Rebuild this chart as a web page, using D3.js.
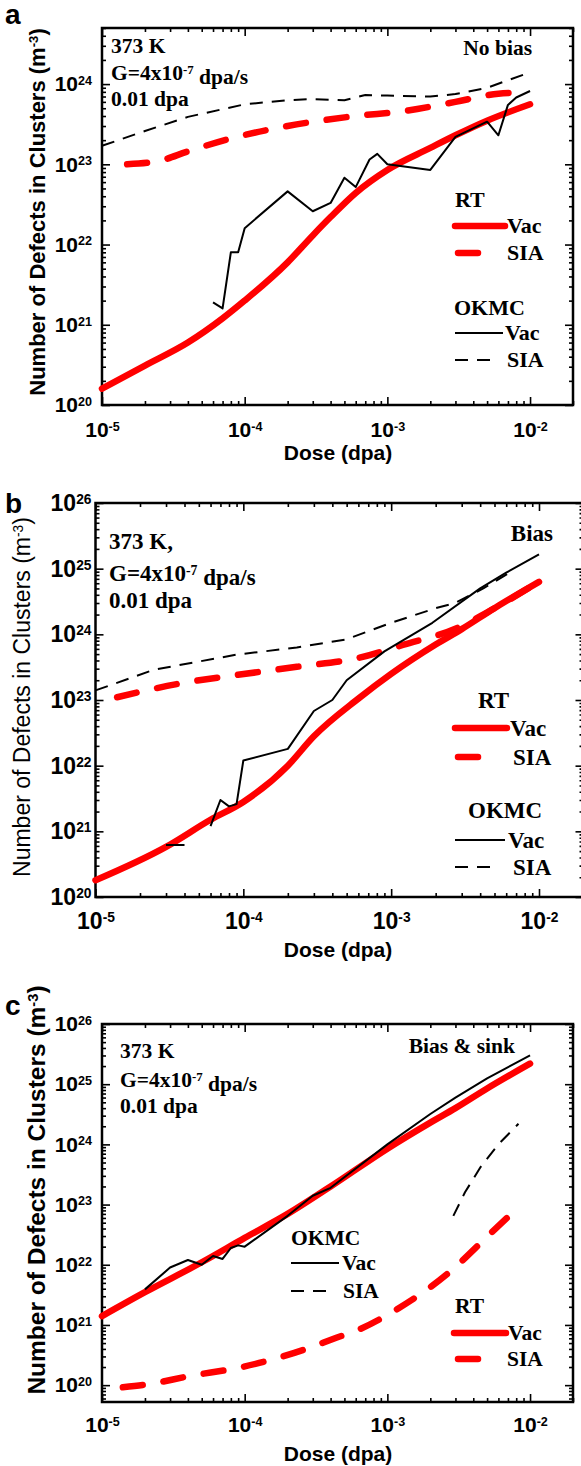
<!DOCTYPE html>
<html>
<head>
<meta charset="utf-8">
<script src="https://cdn.jsdelivr.net/npm/d3@7"></script>
<style>
  body { margin: 0; background: #fff; }
  svg { display: block; }
</style>
</head>
<body>
<svg id="fig" width="581" height="1466"></svg>
<script>
// dose axis is shared by all three panels
var doseDomain = [1e-5, 2e-2];

// panel a : no bias  [dose (dpa), defects in clusters (m^-3)]
var aRtVac = [[1e-5,1.6e20],[2e-5,3.1e20],[4e-5,6e20],[7e-5,1.2e21],[1e-4,2e21],[2e-4,6e21],[3e-4,1.3e22],
  [4e-4,2.2e22],[6e-4,4.4e22],[1e-3,8.5e22],[2e-3,1.6e23],[3e-3,2.3e23],[5e-3,3.5e23],[1e-2,5.6e23]];
var aRtSia = [[1.5e-5,1e23],[2.5e-5,1.1e23],[4e-5,1.45e23],[8e-5,2.1e23],[2e-4,3e23],[6e-4,4e23],
  [1.3e-3,4.6e23],[3e-3,6e23],[6e-3,7.6e23],[8e-3,7.8e23]];
var aOkmcVac = [[6e-5,1.9e21],[7e-5,1.6e21],[8e-5,8e21],[9e-5,8e21],[1e-4,1.6e22],[2e-4,4.6e22],[3e-4,2.6e22],
  [4e-4,3.3e22],[5e-4,6.8e22],[6e-4,5.2e22],[7.5e-4,1.15e23],[8.5e-4,1.35e23],[1e-3,1e23],[2e-3,8.5e22],
  [3e-3,2.2e23],[5e-3,3.4e23],[6e-3,2.3e23],[7e-3,5.5e23],[8e-3,6.8e23],[1e-2,8.2e23]];
var aOkmcSia = [[1e-5,1.7e23],[2e-5,2.6e23],[4e-5,3.9e23],[1e-4,5.6e23],[2e-4,6.3e23],[3e-4,6.5e23],
  [5e-4,6.3e23],[7e-4,7.3e23],[1e-3,7.2e23],[2e-3,7e23],[3e-3,7.5e23],[5e-3,9e23],[1e-2,1.4e24]];

// panel b : bias
var bRtVac = [[1e-5,1.8e20],[3e-5,5.8e20],[6e-5,1.5e21],[1e-4,2.8e21],[2e-4,1e22],[3e-4,2.8e22],[6e-4,1.05e23],
  [1e-3,2.5e23],[2e-3,7e23],[3e-3,1.2e24],[5e-3,2.5e24],[1e-2,6.3e24]];
var bRtSia = [[1.4e-5,1.1e23],[3.8e-5,1.8e23],[9e-5,2.4e23],[2.3e-4,3.2e23],[5.8e-4,4.3e23],[1.2e-3,6.9e23],
  [2.8e-3,1.25e24],[5e-3,2.5e24],[1e-2,6.3e24]];
var bOkmcVac = [[3e-5,6.2e20],[4e-5,6.2e20],[5e-5,null],[6e-5,1.2e21],[7e-5,3e21],[8e-5,2.4e21],[9e-5,2.6e21],
  [1e-4,1.2e22],[2e-4,1.8e22],[3e-4,6.8e22],[4e-4,1e23],[5e-4,2e23],[9e-4,5.5e23],[1.9e-3,1.5e24],
  [4e-3,5e24],[6e-3,8.7e24],[1e-2,1.65e25]];
var bOkmcSia = [[1e-5,1.4e23],[2.5e-5,2.9e23],[9e-5,4.9e23],[2.3e-4,6.3e23],[5e-4,8.4e23],[1e-3,1.5e24],
  [2e-3,2.5e24],[2.7e-3,3e24],[4.2e-3,5e24],[6.5e-3,9e24]];

// panel c : bias & sink
var cRtVac = [[1e-5,1.4e21],[2e-5,3.5e21],[5e-5,1.1e22],[1e-4,2.8e22],[2e-4,7e22],[4e-4,2e23],[1e-3,8.5e23],
  [2e-3,2.3e24],[3e-3,4e24],[5e-3,8.5e24],[1e-2,2.2e25]];
var cRtSia = [[1.4e-5,9.2e19],[2.2e-5,1.05e20],[4e-5,1.4e20],[9.6e-5,2e20],[2.7e-4,4e20],[4.2e-4,5.9e20],
  [6.4e-4,8.5e20],[1.2e-3,1.9e21],[2.7e-3,7.4e21],[5.2e-3,3.2e22],[7.8e-3,7.9e22]];
var cOkmcVac = [[2e-5,3.9e21],[3e-5,9e21],[4e-5,1.2e22],[5e-5,1e22],[6e-5,1.4e22],[7e-5,1.25e22],[8e-5,1.9e22],
  [9e-5,2.1e22],[1e-4,2e22],[2e-4,6.5e22],[3e-4,1.4e23],[4e-4,1.9e23],[1e-3,1e24],[2e-3,3.2e24],[3e-3,6e24],
  [5e-3,1.25e25],[1e-2,3e25]];
var cOkmcSia = [[2.9e-3,6.5e22],[3.5e-3,1.6e23],[4.5e-3,4.2e23],[6e-3,1e24],[8.3e-3,2.2e24]];

var yDomainA = [1e20, 5e24];
var yDomainB = [1e20, 1e26];
var yDomainC = [Math.pow(10, 19.72), 1e26];

var SANS = "'Liberation Sans', Arial, sans-serif";
var SERIF = "'Liberation Serif', 'Times New Roman', serif";
var RED = "#ff0000";

var styles = {
  rtVac:  { stroke: RED, width: 6.5, dash: null, cap: "round", curve: d3.curveMonotoneX },
  rtSia:  { stroke: RED, width: 6.5, dash: "20,21", cap: "round", curve: d3.curveMonotoneX },
  okVac:  { stroke: "#000", width: 2, dash: null, cap: "butt", curve: d3.curveLinear },
  okSia:  { stroke: "#000", width: 2, dash: "13,9", cap: "butt", curve: d3.curveLinear }
};

var panels = [
  { letter: "a", ly: 24, top: 28, bottom: 405, left: 102, right: 573, yDomain: yDomainA,
    tickFont: 21, yPad: 10, xPad: 17,
    yTitle: { x: 45, y: 212, size: 22, weight: "bold" }, xTitleY: 460,
    notes: { x: 111, ys: [53, 80, 106], size: 21.5, comma: "" },
    tag: { text: "No bias", x: 532, y: 55 },
    series: { rtVac: aRtVac, rtSia: aRtSia, okVac: aOkmcVac, okSia: aOkmcSia },
    legendSize: 22,
    legend: [
      { head: "RT", x: 455, y: 207 },
      { key: "rtVac", x1: 455, x2: 505, y: 226, tx: 507 },
      { key: "rtSia", x1: 458, x2: 478, y: 253, tx: 507 },
      { head: "OKMC", x: 454, y: 315 },
      { key: "okVac", x1: 455, x2: 503, y: 333, tx: 505 },
      { key: "okSia", x1: 455, x2: 493, y: 360, tx: 507 }
    ] },
  { letter: "b", ly: 513, top: 503, bottom: 897, left: 95.5, right: 583.5, yDomain: yDomainB,
    tickFont: 23, yPad: 4, xPad: 16,
    yTitle: { x: 30, y: 697, size: 23, weight: "normal" }, xTitleY: 957,
    notes: { x: 109, ys: [549, 581, 608], size: 23, comma: "," },
    tag: { text: "Bias", x: 553, y: 541 },
    series: { rtVac: bRtVac, rtSia: bRtSia, okVac: bOkmcVac, okSia: bOkmcSia },
    legendSize: 23,
    legend: [
      { head: "RT", x: 478, y: 708 },
      { key: "rtVac", x1: 455, x2: 507, y: 728, tx: 510 },
      { key: "rtSia", x1: 458, x2: 478, y: 757, tx: 513 },
      { head: "OKMC", x: 468, y: 818 },
      { key: "okVac", x1: 455, x2: 505, y: 840, tx: 508 },
      { key: "okSia", x1: 455, x2: 493, y: 867, tx: 513 }
    ] },
  { letter: "c", ly: 1015, top: 1024, bottom: 1402, left: 102, right: 573, yDomain: yDomainC,
    tickFont: 21, yPad: 10, xPad: 15,
    yTitle: { x: 45, y: 1190, size: 24.5, weight: "bold" }, xTitleY: 1461,
    notes: { x: 120, ys: [1058, 1087, 1113], size: 21.5, comma: "" },
    tag: { text: "Bias & sink", x: 515, y: 1053 },
    series: { rtVac: cRtVac, rtSia: cRtSia, okVac: cOkmcVac, okSia: cOkmcSia },
    legendSize: 21.5,
    legend: [
      { head: "OKMC", x: 291, y: 1245 },
      { key: "okVac", x1: 291, x2: 339, y: 1263, tx: 342 },
      { key: "okSia", x1: 291, x2: 330, y: 1291, tx: 343 },
      { head: "RT", x: 455, y: 1313 },
      { key: "rtVac", x1: 454, x2: 506, y: 1333, tx: 508 },
      { key: "rtSia", x1: 458, x2: 478, y: 1359, tx: 507 }
    ] }
];

var svg = d3.select("#fig");

// 1..9 x 10^n inside a log domain, split into decades and the rest
function logTicks(domain) {
  var lo = Math.floor(Math.log10(domain[0]) + 1e-9), hi = Math.ceil(Math.log10(domain[1]) - 1e-9);
  var major = [], minor = [];
  for (var e = lo; e <= hi; e++) {
    for (var m = 1; m < 10; m++) {
      var v = m * Math.pow(10, e);
      if (v < domain[0] * 0.999 || v > domain[1] * 1.001) continue;
      if (m === 1) major.push(v); else minor.push(v);
    }
  }
  return { major: major, minor: minor };
}

function addAxis(g, axis, pos, labels, font) {
  var a = g.append("g").attr("transform", pos).call(axis);
  a.select(".domain").remove();
  a.selectAll(".tick line").attr("stroke-width", 1.6);
  a.attr("font-family", SANS).attr("font-weight", "bold").attr("font-size", font || 10);
  if (labels) {
    a.selectAll(".tick text").each(function (d) {
      d3.select(this).append("tspan")
        .attr("dy", "-0.5em")
        .attr("font-size", "0.6em")
        .text(Math.round(Math.log10(d)));
    });
  }
  return a;
}

panels.forEach(function (p) {
  var g = svg.append("g").attr("class", "panel-" + p.letter);
  var x = d3.scaleLog().domain(doseDomain).range([p.left, p.right]);
  var y = d3.scaleLog().domain(p.yDomain).range([p.bottom, p.top]);
  var xt = logTicks(doseDomain), yt = logTicks(p.yDomain);
  var ten = function () { return "10"; }, none = function () { return ""; };

  // ticks point inwards on all four sides
  addAxis(g, d3.axisBottom(x).tickValues(xt.major).tickSize(-8).tickPadding(p.xPad).tickFormat(ten),
    "translate(0," + p.bottom + ")", true, p.tickFont);
  addAxis(g, d3.axisBottom(x).tickValues(xt.minor).tickSize(-4).tickFormat(none), "translate(0," + p.bottom + ")");
  addAxis(g, d3.axisTop(x).tickValues(xt.major).tickSize(-8).tickFormat(none), "translate(0," + p.top + ")");
  addAxis(g, d3.axisTop(x).tickValues(xt.minor).tickSize(-4).tickFormat(none), "translate(0," + p.top + ")");
  addAxis(g, d3.axisLeft(y).tickValues(yt.major).tickSize(-8).tickPadding(p.yPad).tickFormat(ten),
    "translate(" + p.left + ",0)", true, p.tickFont);
  addAxis(g, d3.axisLeft(y).tickValues(yt.minor).tickSize(-4).tickFormat(none), "translate(" + p.left + ",0)");
  addAxis(g, d3.axisRight(y).tickValues(yt.major).tickSize(-8).tickFormat(none), "translate(" + p.right + ",0)");
  addAxis(g, d3.axisRight(y).tickValues(yt.minor).tickSize(-4).tickFormat(none), "translate(" + p.right + ",0)");

  g.append("rect")
    .attr("x", p.left).attr("y", p.top)
    .attr("width", p.right - p.left).attr("height", p.bottom - p.top)
    .attr("fill", "none").attr("stroke", "#000").attr("stroke-width", 2.5);

  // curves: model (red) first, OKMC (black) on top
  ["rtSia", "rtVac", "okSia", "okVac"].forEach(function (key) {
    var s = styles[key];
    var line = d3.line()
      .defined(function (d) { return d[1] != null; })
      .x(function (d) { return x(d[0]); })
      .y(function (d) { return y(d[1]); })
      .curve(s.curve);
    g.append("path")
      .datum(p.series[key])
      .attr("d", line)
      .attr("fill", "none")
      .attr("stroke", s.stroke)
      .attr("stroke-width", s.width)
      .attr("stroke-dasharray", s.dash)
      .attr("stroke-linecap", s.cap)
      .attr("stroke-linejoin", "round");
  });

  // legend
  p.legend.forEach(function (it) {
    if (it.head) {
      g.append("text").attr("x", it.x).attr("y", it.y)
        .attr("font-family", SERIF).attr("font-weight", "bold").attr("font-size", p.legendSize)
        .text(it.head);
      return;
    }
    var s = styles[it.key];
    g.append("line")
      .attr("x1", it.x1).attr("x2", it.x2).attr("y1", it.y).attr("y2", it.y)
      .attr("stroke", s.stroke).attr("stroke-width", s.width)
      .attr("stroke-dasharray", s.dash).attr("stroke-linecap", s.cap);
    g.append("text").attr("x", it.tx).attr("y", it.y + p.legendSize * 0.33)
      .attr("font-family", SERIF).attr("font-weight", "bold").attr("font-size", p.legendSize)
      .text(/Vac/.test(it.key) ? "Vac" : "SIA");
  });

  // conditions
  var nt = g.append("g").attr("font-family", SERIF).attr("font-weight", "bold").attr("font-size", p.notes.size);
  nt.append("text").attr("x", p.notes.x).attr("y", p.notes.ys[0]).text("373 K" + p.notes.comma);
  var gl = nt.append("text").attr("x", p.notes.x).attr("y", p.notes.ys[1]);
  gl.append("tspan").text("G=4x10");
  gl.append("tspan").attr("dy", "-0.45em").attr("font-size", "0.6em").text("-7");
  gl.append("tspan").attr("dy", "0.45em").text(" dpa/s");
  nt.append("text").attr("x", p.notes.x).attr("y", p.notes.ys[2]).text("0.01 dpa");
  nt.append("text").attr("x", p.tag.x).attr("y", p.tag.y).attr("text-anchor", "end").text(p.tag.text);

  // axis titles
  var ytl = g.append("text")
    .attr("transform", "translate(" + p.yTitle.x + "," + p.yTitle.y + ") rotate(-90)")
    .attr("text-anchor", "middle")
    .attr("font-family", SANS).attr("font-weight", p.yTitle.weight).attr("font-size", p.yTitle.size);
  ytl.append("tspan").text("Number of Defects in Clusters (m");
  ytl.append("tspan").attr("dy", "-0.5em").attr("font-size", "0.6em").text("-3");
  ytl.append("tspan").attr("dy", "0.3em").text(")");

  g.append("text")
    .attr("x", 338).attr("y", p.xTitleY)
    .attr("text-anchor", "middle")
    .attr("font-family", SANS).attr("font-weight", "bold").attr("font-size", 21)
    .text("Dose (dpa)");

  g.append("text").attr("x", 5).attr("y", p.ly)
    .attr("font-family", SANS).attr("font-weight", "bold").attr("font-size", 28)
    .text(p.letter);
});
</script>
</body>
</html>
